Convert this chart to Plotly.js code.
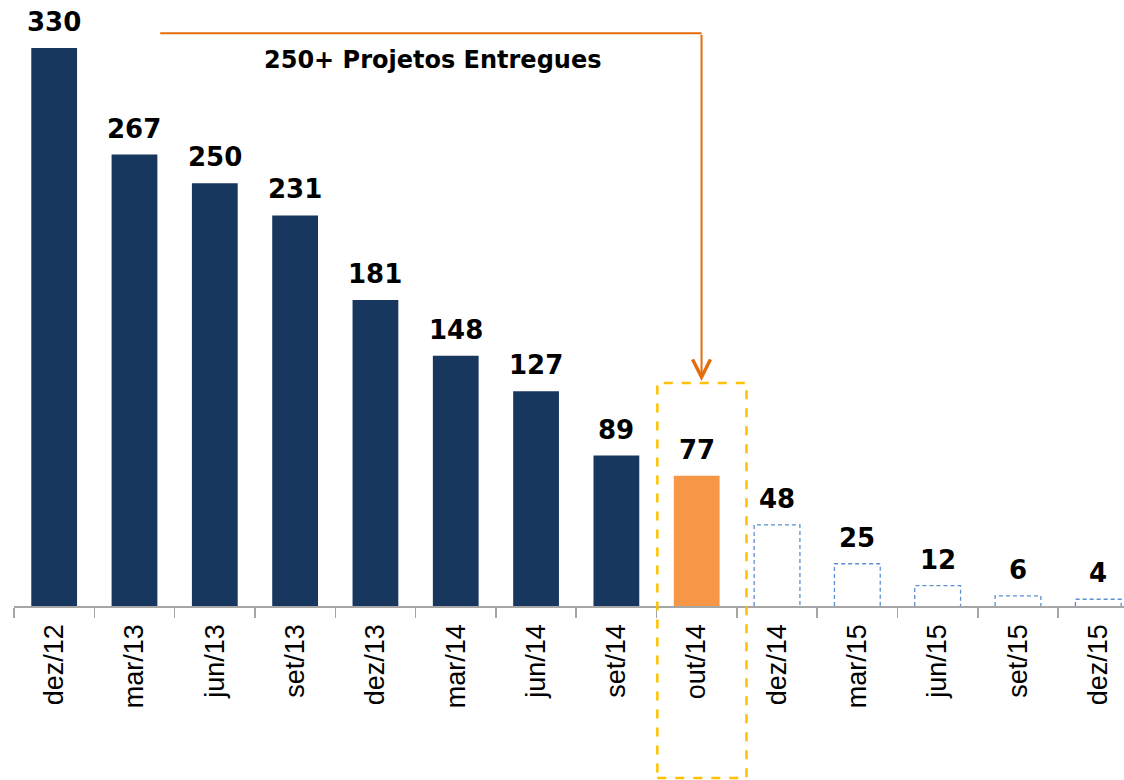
<!DOCTYPE html>
<html>
<head>
<meta charset="utf-8">
<script src="https://cdn.plot.ly/plotly-3.0.1.min.js"></script>
<style>
  body { margin: 0; background: #fff; }
  #myDiv { width: 1124px; height: 780px; }
</style>
</head>
<body>
<div id="myDiv"></div>
<script>
var categories = ['dez/12', 'mar/13', 'jun/13', 'set/13', 'dez/13', 'mar/14', 'jun/14', 'set/14',
                  'out/14', 'dez/14', 'mar/15', 'jun/15', 'set/15', 'dez/15'];
var values = [330, 267, 250, 231, 181, 148, 127, 89, 77, 48, 25, 12, 6, 4];
// 'real' = delivered, 'atual' = current month, 'proj' = projection
var kinds = ['real', 'real', 'real', 'real', 'real', 'real', 'real', 'real',
             'atual', 'proj', 'proj', 'proj', 'proj', 'proj'];
var bannerText = '250+ Projetos Entregues';

var navy = '#17375e';
var orange = '#f79646';
var projBlue = '#5b8fd0';
var halfW = 0.285;

var colors = kinds.map(function (k) {
  if (k === 'real') return navy;
  if (k === 'atual') return orange;
  return 'rgba(255,255,255,0)';
});

var trace1 = {
  x: categories,
  y: values,
  type: 'bar',
  marker: { color: colors, line: { width: 0 } },
  hoverinfo: 'x+y'
};

var shapes = [];
var annotations = [];

categories.forEach(function (c, i) {
  annotations.push({
    x: c, y: values[i], xref: 'x', yref: 'y',
    text: String(values[i]),
    showarrow: false, yanchor: 'bottom', yshift: 9,
    font: { family: 'DejaVu Sans', size: 26, color: '#000', weight: 'bold' }
  });
  if (kinds[i] === 'proj') {
    shapes.push({
      type: 'path', xref: 'x', yref: 'y', layer: 'above',
      path: 'M' + (i - halfW) + ',0 L' + (i - halfW) + ',' + values[i] +
            ' L' + (i + halfW) + ',' + values[i] + ' L' + (i + halfW) + ',0',
      line: { color: projBlue, width: 1.3, dash: '4px,3px' }
    });
  }
});

var hi = kinds.indexOf('atual');

// orange connector from the banner down to the current month
shapes.push({
  type: 'line', xref: 'x', yref: 'y',
  x0: 1.32, x1: hi + 0.06, y0: 338.8, y1: 338.8,
  line: { color: '#e46c0a', width: 2 }
});
annotations.push({
  x: hi + 0.06, y: 133, xref: 'x', yref: 'y',
  ax: hi + 0.06, ay: 338.8, axref: 'x', ayref: 'y',
  text: '', showarrow: true, arrowhead: 5, arrowsize: 1.75, arrowwidth: 2,
  arrowcolor: '#e46c0a'
});

// dashed highlight box around the current month
shapes.push({
  type: 'rect', xref: 'x', yref: 'paper',
  x0: hi - 0.49, x1: hi + 0.62, y0: -0.284, y1: 0.368,
  line: { color: '#ffc000', width: 2.5, dash: 'dash' }
});

annotations.push({
  x: 0.3766, y: 0.901, xref: 'paper', yref: 'paper',
  xanchor: 'center', yanchor: 'middle',
  text: bannerText, showarrow: false,
  font: { family: 'DejaVu Sans', size: 24, color: '#000', weight: 'bold' }
});

var layout = {
  width: 1124,
  height: 780,
  margin: { l: 14, r: 0, t: 0, b: 174 },
  paper_bgcolor: '#fff',
  plot_bgcolor: '#fff',
  showlegend: false,
  bargap: 0.43,
  xaxis: {
    type: 'category',
    range: [-0.5, 13.32],
    tickson: 'boundaries',
    ticks: 'outside',
    ticklen: 10,
    tickwidth: 1.5,
    tickcolor: '#a6a6a6',
    ticklabelstandoff: 6,
    showline: true,
    linecolor: '#a6a6a6',
    linewidth: 1.5,
    showgrid: false,
    tickangle: -90,
    tickfont: { family: 'Liberation Sans', size: 27, color: '#000' }
  },
  yaxis: {
    range: [0, 358.4],
    visible: false,
    showgrid: false,
    zeroline: false
  },
  shapes: shapes,
  annotations: annotations
};

Plotly.newPlot('myDiv', [trace1], layout, { displayModeBar: false, staticPlot: true });
</script>
</body>
</html>
